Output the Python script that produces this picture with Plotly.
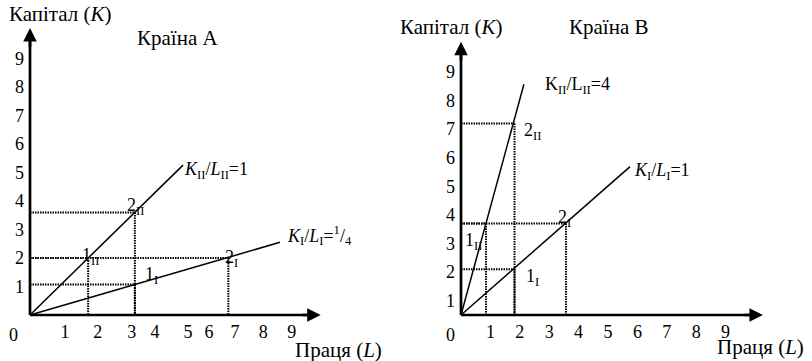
import plotly.graph_objects as go

FONT = "'Times New Roman', 'Liberation Serif', 'DejaVu Serif', serif"
BLACK = "#000000"

# ---------------- data: country A (Країна А), coordinates (L, K) ----------------
a_ray_end_L = [5.37, 8.77]
a_ray_end_K = [5.26, 2.55]
a_ray_labels = ["<i>K</i><sub>II</sub>/<i>L</i><sub>II</sub>=1",
                "<i>K</i><sub>I</sub>/<i>L</i><sub>I</sub>=<sup>1</sup>/<sub>4</sub>"]

a_point_L = [2.04, 3.68, 3.68, 6.96]
a_point_K = [2.00, 3.60, 1.07, 2.00]
a_point_labels = ["1<sub>II</sub>", "2<sub>II</sub>", "1<sub>I</sub>", "2<sub>I</sub>"]

# ---------------- data: country B (Країна В) ----------------
b_ray_end_L = [2.14, 5.75]
b_ray_end_K = [8.07, 5.19]
b_ray_labels = ["K<sub>II</sub>/L<sub>II</sub>=4",
                "<i>K</i><sub>I</sub>/<i>L</i><sub>I</sub>=1"]

b_point_L = [0.85, 1.82, 1.82, 3.57]
b_point_K = [3.20, 6.70, 1.60, 3.20]
b_point_labels = ["1<sub>II</sub>", "2<sub>II</sub>", "1<sub>I</sub>", "2<sub>I</sub>"]

# ---------------- tick labels ----------------
tick_text = ["1", "2", "3", "4", "5", "6", "7", "8", "9"]
a_xtick_vals = [1.23, 2.38, 3.57, 4.39, 5.54, 6.28, 7.19, 8.18, 9.18]
a_ytick_vals = [1, 2, 3, 4, 5, 6, 7, 8, 9]
b_xtick_vals = [1, 2, 3, 4, 5, 6, 7, 8, 9]
b_ytick_vals = [0.5, 1.5, 2.5, 3.5, 4.5, 5.5, 6.5, 7.5, 8.5]

# ---------------- layout geometry (pixels) ----------------
W, H = 812, 361
panels = [
    dict(dom=(0, 400), origin=(30, 315), sx=28.5, sy=28.5,
         tip_L=10.2, tip_K=10.07,
         ray_L=a_ray_end_L, ray_K=a_ray_end_K, ray_labels=a_ray_labels,
         ray_shift=[(-1, -5), (5, 7)],
         pt_L=a_point_L, pt_K=a_point_K, pt_labels=a_point_labels,
         pt_shift=[(-8, 2), (-10, 6), (8, 9), (-5, 0)],
         xt=a_xtick_vals, yt=a_ytick_vals,
         title="Країна А", title_pos=(135, 38),
         ylab_pos=(7, 14), xlab_pos=(293, 350), zero_pos=(13, 335)),
    dict(dom=(400, 812), origin=(461, 315), sx=29.4, sy=28.6,
         tip_L=10.27, tip_K=9.55,
         ray_L=b_ray_end_L, ray_K=b_ray_end_K, ray_labels=b_ray_labels,
         ray_shift=[(19, -1), (2, -5)],
         pt_L=b_point_L, pt_K=b_point_K, pt_labels=b_point_labels,
         pt_shift=[(-23, -18), (7, -8), (9, -8), (-10, 5)],
         xt=b_xtick_vals, yt=b_ytick_vals,
         title="Країна В", title_pos=(567, 27),
         ylab_pos=(398, 27), xlab_pos=(715, 347), zero_pos=(450, 335)),
]

fig = go.Figure()
annotations = []
layout_axes = {}


def paper(px, py):
    return px / W, 1 - py / H


for i, p in enumerate(panels):
    xa = "x" if i == 0 else "x2"
    ya = "y" if i == 0 else "y2"
    xkey = "xaxis" if i == 0 else "xaxis2"
    ykey = "yaxis" if i == 0 else "yaxis2"
    ox, oy = p["origin"]
    d0, d1 = p["dom"]
    x_range = [(d0 - ox) / p["sx"], (d1 - ox) / p["sx"]]
    y_range = [(oy - H) / p["sy"], oy / p["sy"]]

    layout_axes[xkey] = dict(
        domain=[d0 / W, d1 / W], range=x_range, anchor="free",
        position=1 - oy / H, showgrid=False, zeroline=False, showline=False,
        ticks="", tickmode="array", tickvals=p["xt"], ticktext=tick_text,
        tickfont=dict(family=FONT, size=18, color=BLACK),
        ticklabelstandoff=4, fixedrange=True)
    layout_axes[ykey] = dict(
        domain=[0, 1], range=y_range, anchor="free",
        position=ox / W, showgrid=False, zeroline=False, showline=False,
        ticks="", tickmode="array", tickvals=p["yt"], ticktext=tick_text,
        tickfont=dict(family=FONT, size=18, color=BLACK),
        ticklabelstandoff=6, fixedrange=True)

    # dotted guide lines from each production point to both axes
    gx, gy = [], []
    for L, K in zip(p["pt_L"], p["pt_K"]):
        gx += [0, L, None, L, L, None]
        gy += [K, K, None, K, 0, None]
    fig.add_trace(go.Scatter(x=gx, y=gy, mode="lines", xaxis=xa, yaxis=ya,
                             line=dict(color=BLACK, width=2, dash="1.5px,1px"),
                             hoverinfo="skip", showlegend=False))

    # capital/labour rays from the origin
    for L, K in zip(p["ray_L"], p["ray_K"]):
        fig.add_trace(go.Scatter(x=[0, L], y=[0, K], mode="lines", xaxis=xa, yaxis=ya,
                                 line=dict(color=BLACK, width=1.5),
                                 hoverinfo="skip", showlegend=False))

    # axis lines
    fig.add_trace(go.Scatter(x=[0, p["tip_L"] - 0.25, None, 0, 0],
                             y=[0, 0, None, 0, p["tip_K"] - 0.25],
                             mode="lines", xaxis=xa, yaxis=ya,
                             line=dict(color=BLACK, width=2.7),
                             hoverinfo="skip", showlegend=False))
    # arrowheads
    for (hx, hy, tx, ty) in [(p["tip_L"], 0, p["tip_L"] - 0.7, 0),
                             (0, p["tip_K"], 0, p["tip_K"] - 0.7)]:
        annotations.append(dict(x=hx, y=hy, ax=tx, ay=ty, xref=xa, yref=ya,
                                axref=xa, ayref=ya, text="", showarrow=True,
                                arrowhead=2, arrowsize=1.0, arrowwidth=2.7,
                                arrowcolor=BLACK))

    # ray labels
    for L, K, txt, (dx, dy) in zip(p["ray_L"], p["ray_K"], p["ray_labels"], p["ray_shift"]):
        annotations.append(dict(x=L, y=K, xref=xa, yref=ya, text=txt, showarrow=False,
                                xanchor="left", yanchor="middle", xshift=dx, yshift=dy,
                                font=dict(family=FONT, size=18, color=BLACK)))
    # point labels
    for L, K, txt, (dx, dy) in zip(p["pt_L"], p["pt_K"], p["pt_labels"], p["pt_shift"]):
        annotations.append(dict(x=L, y=K, xref=xa, yref=ya, text=txt, showarrow=False,
                                xanchor="left", yanchor="middle", xshift=dx, yshift=dy,
                                font=dict(family=FONT, size=18, color=BLACK)))

    # titles and axis names
    for txt, pos, size, anchor in [(p["title"], p["title_pos"], 21, "left"),
                                   ("Капітал (<i>K</i>)", p["ylab_pos"], 21, "left"),
                                   ("Праця (<i>L</i>)", p["xlab_pos"], 21, "left"),
                                   ("0", p["zero_pos"], 18, "center")]:
        px, py = paper(*pos)
        annotations.append(dict(x=px, y=py, xref="paper", yref="paper", text=txt,
                                showarrow=False, xanchor=anchor, yanchor="middle",
                                font=dict(family=FONT, size=size, color=BLACK)))

fig.update_layout(
    width=W, height=H, autosize=False,
    margin=dict(l=0, r=0, t=0, b=0, pad=0),
    paper_bgcolor="white", plot_bgcolor="white",
    font=dict(family=FONT, color=BLACK),
    showlegend=False, annotations=annotations,
    **layout_axes,
)

fig.write_html("out.html", config={"displayModeBar": False})
